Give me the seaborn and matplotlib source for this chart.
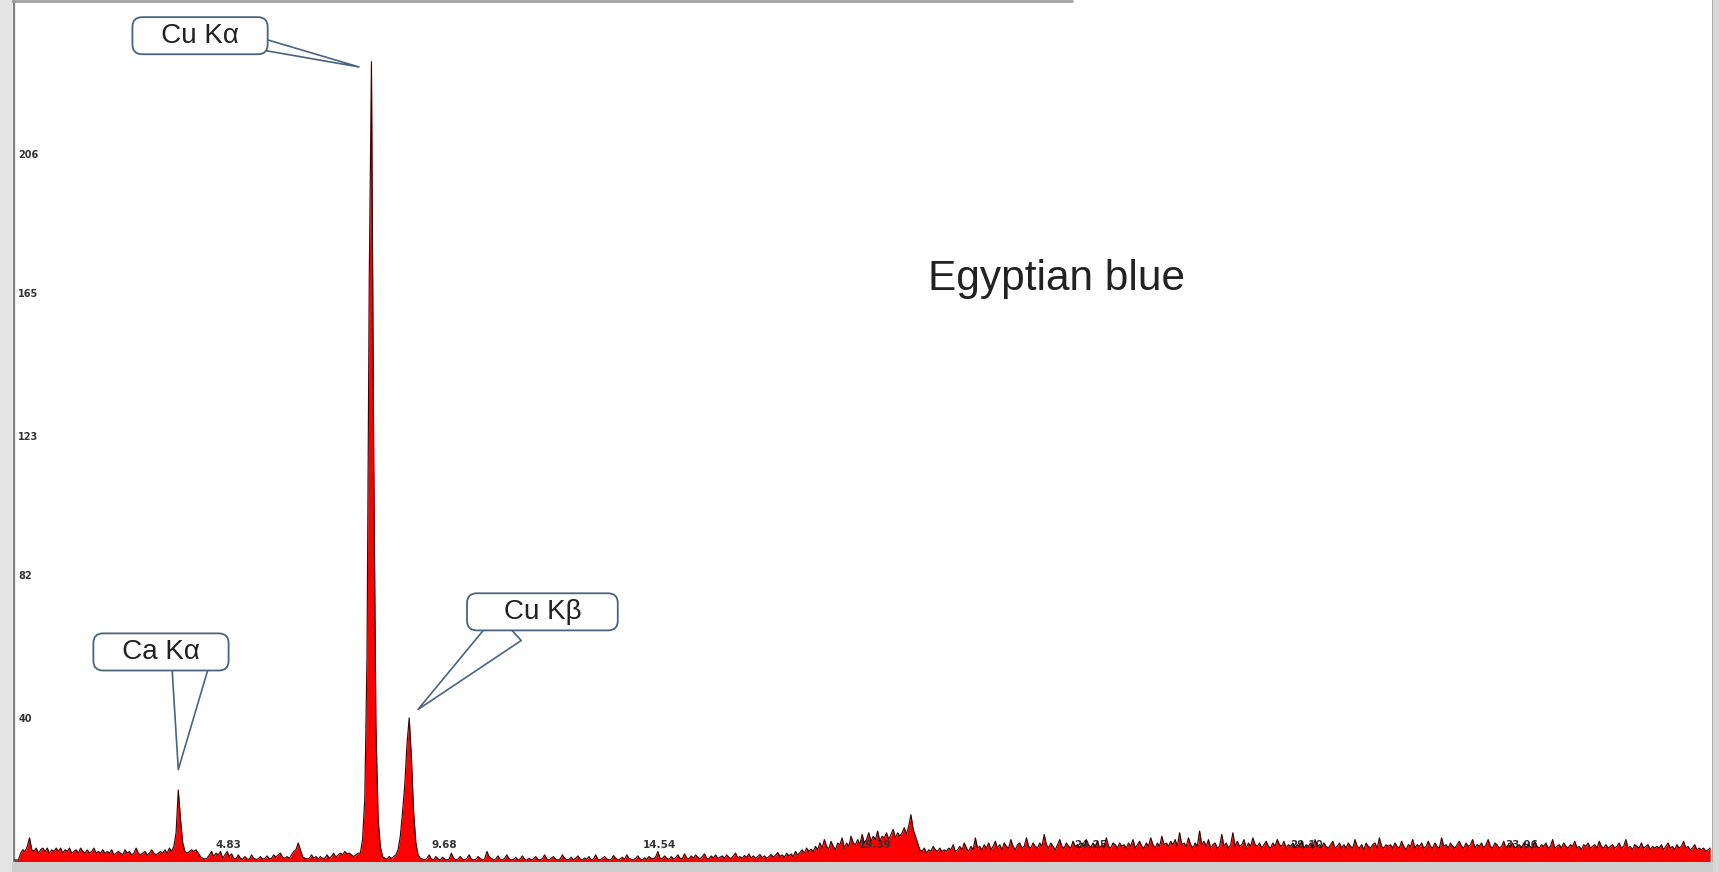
import numpy as np
import seaborn as sns
import matplotlib.pyplot as plt
from matplotlib.patches import Rectangle
from matplotlib.lines import Line2D
from matplotlib.ticker import AutoMinorLocator

# EDXRF spectrum, one value per 0.05 keV channel (one row = 1 keV)
channel_step = 0.05
counts = [
    0, 0, 0, 2, 3, 2.5, 4, 6.5, 3, 2.5, 3.5, 2, 3, 3.5, 2.5, 3.5, 2, 3, 2.5, 3.5,
    2.5, 3.5, 2, 3, 2.5, 3.5, 2, 2.5, 3, 2, 3.5, 2.5, 2, 3, 2, 2.5, 3.5, 2, 2.5, 2,
    3, 2, 2.5, 2, 3, 1.5, 2, 2.5, 2, 1.5, 3, 2, 2.5, 1.5, 2, 3.5, 2, 1.5, 2, 2.5,
    1.5, 2, 3, 2, 1.5, 2, 2.5, 2, 3, 2, 3.5, 2.5, 4, 8, 20.6, 12, 5, 2.5, 2, 2.5,
    3, 2.5, 3, 2, 1, 0.5, 0.3, 0.5, 1.5, 2.5, 1, 2, 1.5, 2.5, 0.5, 1.5, 2.5, 1, 1.8, 0.5,
    0.3, 1.5, 0.5, 0.2, 1, 0.3, 0.2, 1.5, 0.5, 0.2, 0.3, 1, 0.2, 0.5, 1.2, 0.3, 0.5, 1.5, 0.8, 1.5,
    2, 0.8, 0.5, 1, 0.5, 1.5, 2.5, 3, 5, 3, 1, 0.5, 0.3, 0.5, 1.5, 0.5, 1, 0.3, 1, 0.5,
    0.5, 1.5, 0.5, 1, 2, 0.8, 1.5, 2, 1.5, 2.5, 1.8, 2, 1.5, 1, 1.5, 2, 2, 6, 18, 60,
    170, 234.8, 120, 40, 12, 4, 1, 0.5, 0.3, 1, 0.5, 1, 1.5, 3, 7, 14, 22, 34, 41.8, 30,
    14, 5, 1.5, 0.5, 0.3, 0, 0.5, 1.5, 0.3, 0, 1, 0.3, 0, 0.8, 0.2, 0, 0.3, 2, 0.5, 0,
    0.3, 1, 0.2, 0, 0.5, 1.5, 0.3, 0, 0.2, 1, 0.5, 0, 0.3, 2.5, 1, 0.5, 0, 0.3, 1.2, 0.2,
    0, 0.5, 1.5, 0.3, 0, 0.2, 0.8, 0, 0.3, 1.2, 0.2, 0, 0.5, 0, 0.3, 1, 0.2, 0, 0.4, 1.5,
    0.3, 0, 0.5, 1, 0.2, 0, 0.3, 1.5, 0.5, 0, 0.2, 0.8, 0, 0.5, 1.2, 0.3, 0, 0.6, 0.2, 1,
    0, 0.3, 1.5, 0.2, 0, 0.5, 1, 0.3, 0, 0.2, 1.3, 0.5, 0, 0.3, 0.8, 0.2, 1.5, 0.5, 0.2, 0,
    0.5, 1.2, 0.3, 0, 0.6, 0.2, 1, 0.5, 0.3, 0.8, 2.5, 0.5, 0.3, 1.2, 0.5, 0.2, 1, 0.3, 0.6, 1.5,
    0.5, 0.3, 1.8, 0.6, 0.3, 1.2, 0.5, 1.5, 0.8, 0.3, 1, 1.8, 0.5, 0.3, 1.2, 0.6, 1.5, 0.5, 0.8, 1.2,
    0.5, 1.5, 0.8, 0.4, 1.2, 2, 0.6, 1, 0.5, 1.3, 0.8, 1.8, 0.6, 1.2, 0.5, 1, 1.6, 0.7, 1.2, 0.5,
    1, 1.6, 0.8, 1.4, 2.2, 1, 1.5, 0.8, 2, 1.2, 1.8, 1, 2.5, 1.5, 2.2, 3, 2, 3.5, 2.5, 3.2,
    2.5, 4, 3, 5, 3.5, 6, 4, 3.2, 5.5, 4, 3, 5, 4.5, 6.5, 3.5, 5, 4, 7, 5, 4.5,
    6, 4.5, 7.5, 5, 6, 8, 5.5, 7, 6, 8.5, 5.5, 7, 6.5, 8, 6, 7.5, 9, 6.5, 8, 7,
    8, 9.5, 7.5, 10, 13.3, 9, 7, 5, 3, 2.5, 3.5, 2, 3, 2.5, 4, 3, 2.5, 3.5, 2.5, 3,
    2.5, 3.5, 3, 4.5, 2.5, 3, 4, 3, 5, 3.5, 2.5, 4, 3, 6.5, 3.5, 4, 3, 4.5, 3.5, 5,
    3, 4, 5.5, 3.5, 4.5, 3, 5, 4, 3.5, 6, 4, 3, 4.5, 5, 3.5, 4, 6.5, 4, 3.5, 5,
    4, 3.5, 5, 4, 7.5, 4.5, 3.5, 5, 4, 3, 4.5, 6, 4, 3.5, 5, 4, 3.5, 5.5, 4, 4.5,
    3.5, 5, 4, 6, 4.5, 3.5, 5, 4, 5.5, 3.5, 4.5, 4, 6.5, 4, 3.5, 5, 4.5, 3.5, 5, 4,
    4.5, 3.5, 5, 4, 6, 3.5, 4.5, 5.5, 4, 3.5, 5, 4, 6.5, 4.5, 3.5, 5, 4, 7, 4.5, 5,
    4, 5.5, 4.5, 6, 4, 8, 4.5, 5, 4, 6.5, 4.5, 3.5, 5, 4, 8.5, 4.5, 5.5, 4, 6, 3.5,
    4.5, 5, 3.5, 4, 7.5, 4, 5, 3.5, 4.5, 8, 4, 5.5, 4, 4.5, 6, 3.5, 5, 4, 6.5, 4.5,
    4, 5, 3.5, 4.5, 5.5, 4, 3.5, 5, 4, 6, 4.5, 4, 5.5, 3.5, 4.5, 4, 5, 3.5, 4.5, 4,
    5.5, 3.5, 4.5, 4, 5, 3.5, 6, 4, 4.5, 3.5, 5, 4, 3.5, 4.5, 5.5, 3.5, 4, 5, 3.5, 4.5,
    3.5, 5, 4, 3.5, 6, 4, 3.5, 4.5, 3, 5, 4, 3.5, 4.5, 5, 3.5, 6.5, 4, 3.5, 4.5, 4,
    4.5, 3.5, 5, 4, 3.5, 5.5, 4, 3, 4.5, 4, 6, 3.5, 4.5, 4, 5, 3.5, 4, 5.5, 4, 3.5,
    5, 4, 3.5, 6.5, 4, 4.5, 3.5, 5, 4, 3.5, 4.5, 5.5, 4, 3.5, 5, 4, 4.5, 6, 3.5, 4.5,
    4, 5, 3.5, 4.5, 6, 4, 3.5, 5, 4.5, 3.5, 4, 5.5, 3.5, 4.5, 4, 5, 3.5, 4, 4.5, 3.5,
    5, 3.5, 4.5, 4, 3.5, 5.5, 4, 3.5, 4.5, 4, 5, 3.5, 4, 6, 3.5, 4, 4.5, 3.5, 5, 4,
    3.5, 4.5, 4, 5.5, 3.5, 4, 3, 4.5, 4, 5, 3.5, 4, 4.5, 3.5, 5.5, 4, 3.5, 4.5, 3.5, 4,
    4.5, 3.5, 4, 5, 3.5, 4, 6, 3.5, 4, 3, 4.5, 4, 3.5, 5, 3.5, 4, 4.5, 3, 4, 3.5,
    4, 3.5, 4.5, 3, 4, 5, 3.5, 4, 3, 4.5, 3.5, 4, 5.5, 3.5, 4, 3, 3.5, 4.5, 3, 3.5,
    3, 3.5, 2.5, 3, 3.5,
]
counts = np.array(counts, dtype=float)
energy = np.round(np.arange(len(counts)) * channel_step, 2)

xtick_vals = [4.83, 9.68, 14.54, 19.39, 24.25, 29.10, 33.96]
xtick_labels = ["4.83", "9.68", "14.54", "19.39", "24.25", "29.10", "33.96"]
ytick_vals = [40, 82, 123, 165, 206]
ytick_labels = ["40", "82", "123", "165", "206"]

# labelled lines: name, approximate energy (keV)
peak_names = ["Ca Kα", "Cu Kα", "Cu Kβ"]
peak_energies = [3.69, 8.05, 8.90]

sns.set_theme(style="white")
plt.rcParams["font.family"] = ["Liberation Sans", "DejaVu Sans"]

fig = plt.figure(figsize=(17.19, 8.72), dpi=100)
fig.patch.set_facecolor("white")
ax = fig.add_axes([14 / 1719, 11 / 872, 1698 / 1719, 861 / 872])
ax.set_facecolor("white")

# Spectrum: red fill + dark outline
ax.fill_between(energy, counts, -1, color="#ff0000", lw=0, zorder=2)
sns.lineplot(x=energy, y=counts, ax=ax, color="#3a0505", lw=0.85, zorder=3)

ax.set_xlim(0, 38.24)
ax.set_ylim(-0.3, 253)
ax.set_xlabel("")
ax.set_ylabel("")

for side in ["top", "right", "bottom"]:
    ax.spines[side].set_visible(False)
ax.spines["left"].set_color("#808080")
ax.spines["left"].set_linewidth(1.6)
ax.set_axisbelow(False)

ax.set_xticks(xtick_vals)
ax.set_xticklabels(xtick_labels)
ax.tick_params(axis="x", direction="in", length=0, pad=-15, labelsize=7.5,
               labelcolor="#333333")
ax.set_yticks(ytick_vals)
ax.set_yticklabels(ytick_labels)
ax.yaxis.set_minor_locator(AutoMinorLocator(5))
ax.tick_params(axis="y", which="major", direction="in", length=7, width=0.8,
               color="#555555", pad=-3, labelsize=7, labelcolor="#333333")
ax.tick_params(axis="y", which="minor", direction="in", length=4, width=0.7,
               color="#777777")
for lab in ax.get_xticklabels() + ax.get_yticklabels():
    lab.set_fontweight("bold")
    lab.set_family("DejaVu Sans")
for lab in ax.get_yticklabels():
    lab.set_horizontalalignment("left")
    lab.set_verticalalignment("bottom")

# Callouts: box centre, wedge base point, tip offset from the peak top
edge = "#48647f"
box = dict(boxstyle="round,pad=0.2,rounding_size=0.35", fc="white", ec=edge, lw=1.3)
callouts = {
    "Ca Kα": dict(text="   Ca Kα   ", centre=(3.31, 61.2), base=(3.96, 56.5),
                  dx=0.0, dy=6.0, tail=1.3),
    "Cu Kα": dict(text="   Cu Kα   ", centre=(4.19, 242.5), base=(5.65, 239.8),
                  dx=-0.28, dy=-1.5, tail=0.4),
    "Cu Kβ": dict(text="    Cu Kβ    ", centre=(11.9, 73.0), base=(11.15, 68.5),
                  dx=0.2, dy=2.5, tail=1.3),
}
for name, e in zip(peak_names, peak_energies):
    idx = int(np.argmin(np.abs(energy - e)))
    c = callouts[name]
    ax.annotate(
        "", xy=(energy[idx] + c["dx"], counts[idx] + c["dy"]),
        xytext=c["base"], textcoords="data", fontsize=20, zorder=4,
        arrowprops=dict(arrowstyle=f"wedge,tail_width={c['tail']},shrink_factor=0.5",
                        fc="white", ec=edge, lw=1.2, shrinkA=0, shrinkB=0),
    )
    ax.text(c["centre"][0], c["centre"][1], c["text"], ha="center", va="center",
            fontsize=20, color="#222222", bbox=box, zorder=5)

ax.text(0.614, 0.676, "Egyptian blue", transform=ax.transAxes, ha="center",
        va="center", fontsize=30.5, color="#222222")

# window frame bits around the screenshot
fig.patches.append(Rectangle((0, 0), 1, 10 / 872, transform=fig.transFigure,
                             fc="#cdcdcd", ec="none", zorder=10))
fig.patches.append(Rectangle((0, 0), 12 / 1719, 1, transform=fig.transFigure,
                             fc="#e4e4e4", ec="none", zorder=10))
fig.patches.append(Rectangle((1713 / 1719, 0), 6 / 1719, 1, transform=fig.transFigure,
                             fc="#d8d8d8", ec="none", zorder=10))
fig.add_artist(Line2D([1713 / 1719, 1713 / 1719], [0, 1], transform=fig.transFigure,
                      color="#9a9a9a", lw=1.2))
fig.add_artist(Line2D([0, 1072 / 1719], [1 - 1.5 / 872, 1 - 1.5 / 872],
                      transform=fig.transFigure, color="#a0a0a0", lw=2))

fig.savefig("out.png", dpi=100)
plt.close(fig)
